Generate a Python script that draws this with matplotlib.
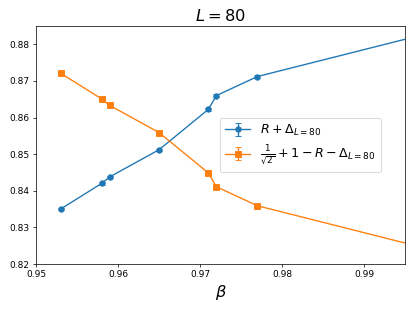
import matplotlib
matplotlib.use("Agg")
import matplotlib.pyplot as plt
import numpy as np

beta = [0.953, 0.958, 0.959, 0.965, 0.971, 0.972, 0.977, 1.0]
r_plus_delta = [0.8350, 0.8420, 0.8438, 0.8512, 0.8622, 0.8660, 0.8712, 0.8842]
r_err = [0.0003, 0.0003, 0.0003, 0.0003, 0.0003, 0.0003, 0.0003, 0.0003]
other = [1/np.sqrt(2) + 1 - v for v in r_plus_delta]

fig = plt.figure(figsize=(415/65, 311/65), dpi=65)
ax = fig.add_axes([36/415, 1-264/311, (405-36)/415, (264-26)/311])

ax.errorbar(beta, r_plus_delta, yerr=r_err, marker='o', markersize=6, capsize=3,
            color='#1f77b4', label=r'$R+\Delta_{L=80}$')
ax.errorbar(beta, other, yerr=r_err, marker='s', markersize=6, capsize=3,
            color='#ff7f0e', label=r'$\frac{1}{\sqrt{2}}+1-R-\Delta_{L=80}$')

ax.set_xlim(0.95, 0.995)
ax.set_ylim(0.82, 0.885)
ax.set_xticks([0.95, 0.96, 0.97, 0.98, 0.99])
ax.set_yticks([0.82, 0.83, 0.84, 0.85, 0.86, 0.87, 0.88])
ax.set_title(r'$L=80$', fontsize=18)
ax.set_xlabel(r'$\beta$', fontsize=18)
ax.legend(loc='center right', bbox_to_anchor=(0.935, 0.50), borderaxespad=0, fontsize=14)

fig.savefig('out.png', dpi=65)
